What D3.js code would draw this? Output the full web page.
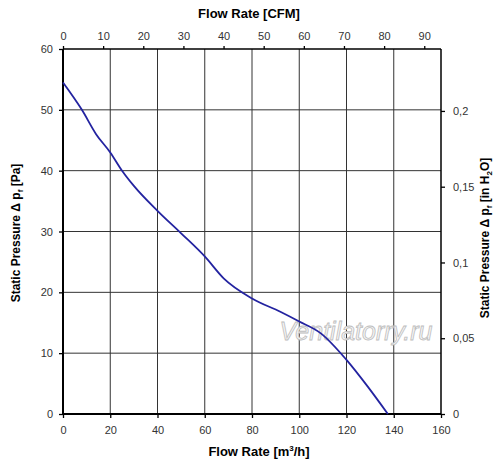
<!DOCTYPE html>
<html>
<head>
<meta charset="utf-8">
<script src="https://cdn.jsdelivr.net/npm/d3@7"></script>
<style>
  body { margin: 0; background: #fff; }
  text { font-family: "Liberation Sans", Arial, sans-serif; }
</style>
</head>
<body>
<div id="chart"></div>
<script>
// flow rate in m3/h and static pressure in Pa
var flowM3h = [0, 8, 14, 20, 25, 30, 40, 50, 60, 68, 80, 92, 100, 109, 120, 129, 137.5];
var pressurePa = [54.5, 50, 46, 43, 40, 37.5, 33.4, 29.7, 25.9, 22.3, 19, 16.8, 15.2, 13.3, 8.9, 4.5, 0];

var bottomTicks = [0, 20, 40, 60, 80, 100, 120, 140, 160];
var leftTicks = [0, 10, 20, 30, 40, 50, 60];
var topTicks = [0, 10, 20, 30, 40, 50, 60, 70, 80, 90];
var rightTicks = [0, 0.05, 0.1, 0.15, 0.2];

var CFM = 1.699;     // m3/h per CFM
var INH2O = 249.09;  // Pa per inch of water

var width = 500, height = 467;
var plotL = 63, plotR = 441, plotT = 49, plotB = 414;

var svg = d3.select("#chart").append("svg")
  .attr("width", width)
  .attr("height", height);

var x = d3.scaleLinear().domain([0, 160]).range([plotL, plotR]);
var y = d3.scaleLinear().domain([0, 60]).range([plotB, plotT]);
var xCfm = d3.scaleLinear().domain([0, 160 / CFM]).range([plotL, plotR]);
var yIn = d3.scaleLinear().domain([0, 60 / INH2O]).range([plotB, plotT]);

// grid
svg.append("g").selectAll("line")
  .data(bottomTicks.slice(1, -1))
  .enter().append("line")
  .attr("x1", function(d) { return x(d); })
  .attr("x2", function(d) { return x(d); })
  .attr("y1", plotT).attr("y2", plotB)
  .attr("stroke", "#333").attr("stroke-width", 1);

svg.append("g").selectAll("line")
  .data(leftTicks.slice(1, -1))
  .enter().append("line")
  .attr("x1", plotL).attr("x2", plotR)
  .attr("y1", function(d) { return y(d); })
  .attr("y2", function(d) { return y(d); })
  .attr("stroke", "#333").attr("stroke-width", 1);

// axes
var fmtComma = function(d) { return String(d).replace(".", ","); };

var gBottom = svg.append("g").attr("transform", "translate(0," + plotB + ")")
  .call(d3.axisBottom(x).tickValues(bottomTicks).tickSize(4).tickPadding(8));
var gLeft = svg.append("g").attr("transform", "translate(" + plotL + ",0)")
  .call(d3.axisLeft(y).tickValues(leftTicks).tickSize(4).tickPadding(6));
var gTop = svg.append("g").attr("transform", "translate(0," + plotT + ")")
  .call(d3.axisTop(xCfm).tickValues(topTicks).tickSize(3).tickPadding(6));
var gRight = svg.append("g").attr("transform", "translate(" + plotR + ",0)")
  .call(d3.axisRight(yIn).tickValues(rightTicks).tickSize(4).tickPadding(8).tickFormat(fmtComma));

[gBottom, gLeft, gTop, gRight].forEach(function(g) {
  g.select(".domain").remove();
  g.selectAll(".tick line").attr("stroke", "#000").attr("stroke-width", 1.3);
  g.selectAll(".tick text").attr("font-size", 11).attr("fill", "#333");
});

svg.append("line").attr("x1", plotL).attr("x2", plotR).attr("y1", plotT).attr("y2", plotT)
  .attr("stroke", "#000").attr("stroke-width", 1.5);
svg.append("line").attr("x1", plotR).attr("x2", plotR).attr("y1", plotT).attr("y2", plotB)
  .attr("stroke", "#000").attr("stroke-width", 1.5);
svg.append("line").attr("x1", plotL).attr("x2", plotL).attr("y1", plotT).attr("y2", plotB + 0.5)
  .attr("stroke", "#000").attr("stroke-width", 2);
svg.append("line").attr("x1", plotL).attr("x2", plotR).attr("y1", plotB).attr("y2", plotB)
  .attr("stroke", "#000").attr("stroke-width", 2);

// watermark
svg.append("text")
  .attr("x", 356).attr("y", 340)
  .attr("text-anchor", "middle")
  .attr("font-family", "Liberation Serif, serif")
  .attr("font-style", "italic")
  .attr("font-size", 25)
  .attr("fill", "#f6f6f6")
  .attr("stroke", "#bdbdbd")
  .attr("stroke-width", 0.8)
  .text("Ventilatorry.ru");

// curve
var pts = flowM3h.map(function(q, i) { return [q, pressurePa[i]]; });
svg.append("path")
  .datum(pts)
  .attr("fill", "none")
  .attr("stroke", "#2323a0")
  .attr("stroke-width", 1.8)
  .attr("d", d3.line()
    .x(function(d) { return x(d[0]); })
    .y(function(d) { return y(d[1]); })
    .curve(d3.curveMonotoneX));

// titles
svg.append("text")
  .attr("x", 249).attr("y", 18)
  .attr("text-anchor", "middle")
  .attr("font-size", 13).attr("font-weight", "bold")
  .text("Flow Rate [CFM]");

var bt = svg.append("text")
  .attr("x", 259).attr("y", 456)
  .attr("text-anchor", "middle")
  .attr("font-size", 13).attr("font-weight", "bold");
bt.append("tspan").text("Flow Rate [m");
bt.append("tspan").attr("font-size", 8).attr("dy", -5).text("3");
bt.append("tspan").attr("dy", 5).text("/h]");

var lt = svg.append("text")
  .attr("transform", "translate(20,233) rotate(-90)")
  .attr("text-anchor", "middle")
  .attr("font-size", 12).attr("font-weight", "bold");
lt.append("tspan").text("Static Pressure Δ p");
lt.append("tspan").attr("font-size", 8).attr("dy", 3).text("f");
lt.append("tspan").attr("dy", -3).text(" [Pa]");

var rt = svg.append("text")
  .attr("transform", "translate(489,238) rotate(-90)")
  .attr("text-anchor", "middle")
  .attr("font-size", 12).attr("font-weight", "bold");
rt.append("tspan").text("Static Pressure Δ p");
rt.append("tspan").attr("font-size", 8).attr("dy", 3).text("f");
rt.append("tspan").attr("dy", -3).text(" [in H");
rt.append("tspan").attr("font-size", 8).attr("dy", 3).text("2");
rt.append("tspan").attr("dy", -3).text("O]");
</script>
</body>
</html>
